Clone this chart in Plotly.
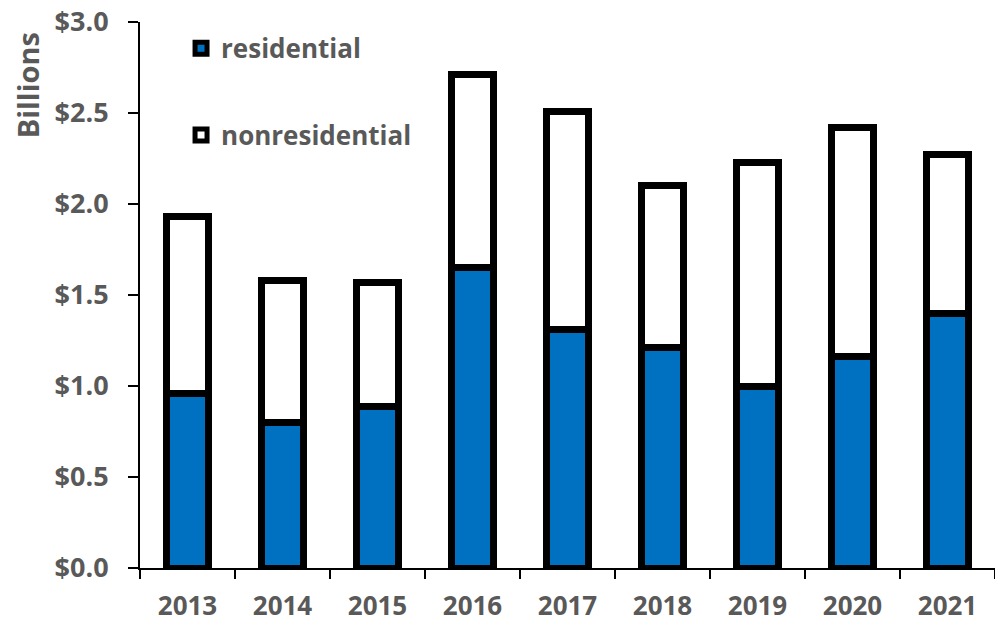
import plotly.graph_objects as go

years = ["2013", "2014", "2015", "2016", "2017", "2018", "2019", "2020", "2021"]
residential = [0.96, 0.80, 0.885, 1.65, 1.31, 1.21, 1.00, 1.16, 1.40]
nonresidential = [0.97, 0.78, 0.685, 1.06, 1.20, 0.89, 1.23, 1.26, 0.87]
y_ticks = [0, 0.5, 1.0, 1.5, 2.0, 2.5, 3.0]
y_tick_labels = ["$0.0", "$0.5", "$1.0", "$1.5", "$2.0", "$2.5", "$3.0"]

grey = "#595959"
font = "Open Sans"

fig = go.Figure()
fig.add_trace(go.Bar(x=years, y=residential, name="residential", legendgroup="a",
                     marker=dict(color="#0070C0", line=dict(color="black", width=7))))
fig.add_trace(go.Bar(x=years, y=nonresidential, name="nonresidential", legendgroup="b",
                     marker=dict(color="white", line=dict(color="black", width=7))))

fig.add_annotation(text="Billions", textangle=-90, xref="paper", yref="paper",
                   x=-0.132, y=0.985, xanchor="center", yanchor="top", showarrow=False,
                   font=dict(size=29, color=grey, family=font, weight="bold"))

fig.update_layout(
    width=995, height=629,
    barmode="stack", bargap=0.55,
    plot_bgcolor="white", paper_bgcolor="white",
    margin=dict(l=140, r=0, t=22, b=61),
    font=dict(family=font, color=grey, size=26),
    legend=dict(x=0.048, y=0.995, xanchor="left", yanchor="top", traceorder="grouped",
                tracegroupgap=50, font=dict(size=26, color=grey, family=font, weight="bold"),
                bgcolor="rgba(0,0,0,0)", itemwidth=30),
    xaxis=dict(type="category", showline=True, linecolor="black", linewidth=2,
               ticks="outside", tickson="boundaries", ticklen=9, tickwidth=2, tickcolor="black",
               tickfont=dict(size=26, color=grey, family=font, weight="bold"), ticklabelstandoff=14,
               automargin=False),
    yaxis=dict(range=[0, 3.0], tickvals=y_ticks, ticktext=y_tick_labels,
               showline=True, linecolor="black", linewidth=2, showgrid=False, zeroline=False,
               ticks="outside", ticklen=10, tickwidth=2, tickcolor="black",
               tickfont=dict(size=27, color=grey, family=font, weight="bold"),
               ticklabelstandoff=14, automargin=False),
)

fig.write_html("out.html", config={"displayModeBar": False},
               post_script="document.body.style.margin='0';document.body.style.overflow='hidden';")
